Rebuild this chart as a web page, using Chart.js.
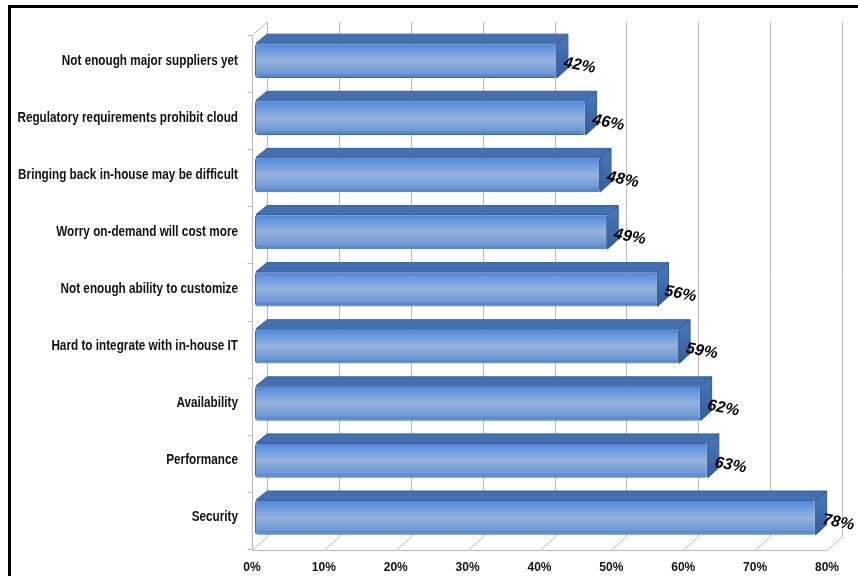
<!DOCTYPE html>
<html>
<head>
<meta charset="utf-8">
<script src="https://cdn.jsdelivr.net/npm/chart.js@4"></script>
<style>
  html, body { margin: 0; padding: 0; background: #fff; }
  #chart { display: block; }
</style>
</head>
<body>
<canvas id="chart" width="858" height="576"></canvas>
<script>
        // Chart data (top to bottom)
        const categories = [
            'Not enough major suppliers yet',
            'Regulatory requirements prohibit cloud',
            'Bringing back in-house may be difficult',
            'Worry on-demand will cost more',
            'Not enough ability to customize',
            'Hard to integrate with in-house IT',
            'Availability',
            'Performance',
            'Security'
        ];
        const percentValues = [42, 46, 48, 49, 56, 59, 62, 63, 78];
        const xTickMax = 80;
        const xTickStep = 10;

        const BAR_PCT = 0.61;
        const DEPTH_X = 11, DEPTH_Y = 9;     // bar depth
        const WALL_X = 15, WALL_Y = 13;      // floor / wall depth
        const FRONT_SHIFT = 3;               // front plane sits left of the bar plane

        const frame3d = {
            id: 'frame3d',
            beforeDraw(chart) {
                const ctx = chart.ctx;
                ctx.save();
                ctx.fillStyle = '#000';
                ctx.fillRect(8, 5, 850, 3);
                ctx.fillRect(8, 5, 3, 571);
                ctx.restore();
            },
            beforeDatasetsDraw(chart) {
                const ctx = chart.ctx;
                const xs = chart.scales.x;
                const ys = chart.scales.y;
                const area = chart.chartArea;
                const floorY = area.bottom + 4;
                const wallTop = 22;
                const fx = v => xs.getPixelForValue(v) - FRONT_SHIFT;

                ctx.save();
                ctx.lineWidth = 1;
                ctx.strokeStyle = '#b9b9b9';
                for (let v = 0; v <= xTickMax; v += xTickStep) {
                    const x = Math.round(fx(v)) + 0.5;
                    // back wall line
                    ctx.beginPath();
                    ctx.moveTo(x + WALL_X, wallTop);
                    ctx.lineTo(x + WALL_X, floorY - WALL_Y);
                    ctx.stroke();
                    // floor diagonal
                    ctx.beginPath();
                    ctx.moveTo(x, floorY);
                    ctx.lineTo(x + WALL_X, floorY - WALL_Y);
                    ctx.stroke();
                }
                // front floor edge
                const x0 = Math.round(fx(0)) + 0.5;
                ctx.beginPath();
                ctx.moveTo(x0, floorY + 0.5);
                ctx.lineTo(Math.round(fx(xTickMax)) + 0.5, floorY + 0.5);
                ctx.stroke();
                // left wall
                ctx.beginPath();
                ctx.moveTo(x0 + WALL_X, wallTop);
                ctx.lineTo(x0, wallTop + WALL_Y);
                ctx.lineTo(x0, floorY);
                ctx.stroke();
                // category tick marks
                const band = (area.bottom - area.top) / categories.length;
                for (let i = 0; i <= categories.length; i++) {
                    const y = Math.round(area.top + i * band + 3) + 0.5;
                    ctx.beginPath();
                    ctx.moveTo(x0 - 5, y);
                    ctx.lineTo(x0, y);
                    ctx.stroke();
                }

                // category labels (narrow bold face, squeezed horizontally)
                ctx.fillStyle = '#111';
                ctx.font = 'bold 14.5px "Liberation Sans", Arial, sans-serif';
                ctx.textAlign = 'right';
                ctx.textBaseline = 'middle';
                ys.getLabels().forEach((label, i) => {
                    ctx.save();
                    ctx.translate(238, ys.getPixelForValue(i));
                    ctx.scale(0.81, 1);
                    ctx.fillText(label, 0, 0);
                    ctx.restore();
                });
                ctx.restore();
            },
            afterDatasetsDraw(chart) {
                const ctx = chart.ctx;
                const meta = chart.getDatasetMeta(0);
                ctx.save();
                meta.data.forEach((el, i) => {
                    const top = el.y - el.height / 2;
                    const bottom = el.y + el.height / 2;
                    const l = el.base, r = el.x;
                    // top face
                    ctx.beginPath();
                    ctx.moveTo(l + 1, top);
                    ctx.lineTo(l + 1 + DEPTH_X, top - DEPTH_Y);
                    ctx.lineTo(r + DEPTH_X, top - DEPTH_Y);
                    ctx.lineTo(r, top);
                    ctx.closePath();
                    ctx.fillStyle = '#4470b0';
                    ctx.fill();
                    ctx.strokeStyle = '#3a639e';
                    ctx.stroke();
                    // side face
                    ctx.beginPath();
                    ctx.moveTo(r, top);
                    ctx.lineTo(r + DEPTH_X, top - DEPTH_Y);
                    ctx.lineTo(r + DEPTH_X, bottom - DEPTH_Y - 1);
                    ctx.lineTo(r, bottom);
                    ctx.closePath();
                    const sg = ctx.createLinearGradient(0, top, 0, bottom);
                    sg.addColorStop(0, '#4673b4');
                    sg.addColorStop(1, '#355c98');
                    ctx.fillStyle = sg;
                    ctx.fill();
                    ctx.strokeStyle = '#345a93';
                    ctx.stroke();

                    // value label
                    ctx.save();
                    ctx.translate(r + 7, el.y + 2);
                    ctx.rotate(11 * Math.PI / 180);
                    ctx.font = 'italic bold 16px "Liberation Sans", Arial, sans-serif';
                    ctx.fillStyle = '#000';
                    ctx.textAlign = 'left';
                    ctx.textBaseline = 'middle';
                    ctx.fillText(percentValues[i] + '%', 0, 0);
                    ctx.restore();
                });
                ctx.restore();
            }
        };

        function barFill(c) {
            const chart = c.chart;
            const area = chart.chartArea;
            if (!area || !chart.scales.y) {
                return '#7fa6dc';
            }
            const cy = chart.scales.y.getPixelForValue(c.dataIndex);
            const h = (area.bottom - area.top) / categories.length * BAR_PCT;
            const g = chart.ctx.createLinearGradient(0, cy - h / 2, 0, cy + h / 2);
            g.addColorStop(0, '#4f80cc');
            g.addColorStop(0.12, '#5e92e0');
            g.addColorStop(0.5, '#94b2dc');
            g.addColorStop(0.85, '#7099d6');
            g.addColorStop(1, '#4a7bc4');
            return g;
        }

        const ctx = document.getElementById('chart').getContext('2d');
        const chartInstance = new Chart(ctx, {
            type: 'bar',
            data: {
                labels: categories,
                datasets: [{
                    data: percentValues,
                    backgroundColor: barFill,
                    borderColor: '#3f6aa6',
                    borderWidth: 1,
                    borderRadius: 3,
                    borderSkipped: false,
                    barPercentage: BAR_PCT,
                    categoryPercentage: 1
                }]
            },
            options: {
                indexAxis: 'y',
                responsive: false,
                animation: false,
                devicePixelRatio: 1,
                layout: {
                    padding: { top: 32, left: 10, right: 28, bottom: 0 }
                },
                scales: {
                    x: {
                        min: 0,
                        max: xTickMax,
                        grid: { display: false, drawTicks: false },
                        border: { display: false },
                        ticks: {
                            stepSize: xTickStep,
                            callback: v => v + '%',
                            color: '#111',
                            padding: 14,
                            labelOffset: -FRONT_SHIFT,
                            font: { family: '"Liberation Sans", Arial, sans-serif', size: 12, weight: 'bold' }
                        },
                        afterFit: s => { s.height = 30; }
                    },
                    y: {
                        grid: { display: false, drawTicks: false },
                        border: { display: false },
                        ticks: { display: false },
                        afterFit: s => { s.width = 245; }
                    }
                },
                plugins: {
                    legend: { display: false },
                    tooltip: { enabled: false }
                }
            },
            plugins: [frame3d]
        });
</script>
</body>
</html>
